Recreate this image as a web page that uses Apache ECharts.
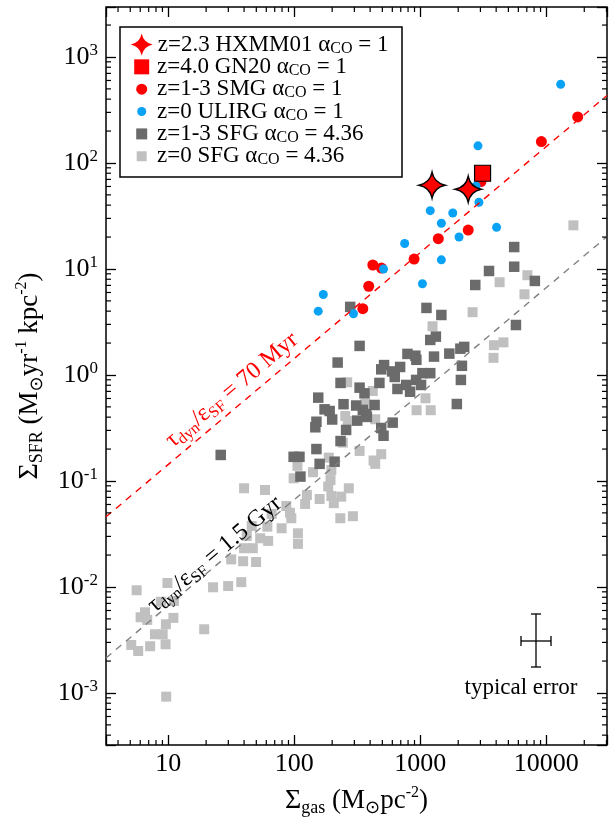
<!DOCTYPE html>
<html><head><meta charset="utf-8">
<script src="https://cdn.jsdelivr.net/npm/echarts@6/dist/echarts.min.js"></script>
<style>html,body{margin:0;padding:0;background:#fff}#c{width:610px;height:826px}</style>
</head><body><div id="c"></div>
<script>
const FONT = 'Liberation Serif';
const X_MIN = 3.21, X_MAX = 30300, Y_MIN = 3.23e-4, Y_MAX = 2960;

// Tick labels
const xTickLabels = ['10', '100', '1000', '10000'];
const yTickExponents = ['-3', '-2', '-1', '0', '1', '2', '3'];

// Data  [Sigma_gas (Msun/pc^2), Sigma_SFR (Msun/yr/kpc^2)]
const hxmm01 = [[1240, 61.7], [2400, 56.5]];
const gn20 = [[3120, 80.0]];
const smg = [[17740, 272], [9140, 159], [3030, 66.7], [2400, 23.3], [1390, 19.3], [893, 12.4], [420, 10.9], [492, 10.2], [390, 6.87], [350, 4.22]];
const ulirg = [[13000, 552], [2870, 145], [2770, 60.7], [2920, 42.6], [1200, 35.5], [1810, 33.7], [1470, 27.0], [4030, 24.7], [2030, 20.0], [752, 17.4], [1470, 12.2], [511, 10.0], [1040, 7.26], [170, 5.74], [155, 4.0], [295, 3.78]];
const sfgHighZ = [[5560, 16.1], [5560, 10.5], [3510, 9.57], [8110, 7.71], [2730, 7.06], [278, 4.39], [1120, 4.29], [1470, 3.68], [5740, 2.96], [1330, 2.30], [1200, 2.14], [330, 1.88], [2230, 1.84], [2080, 1.77], [791, 1.58], [914, 1.52], [931, 1.39], [1285, 1.49], [1700, 1.59], [221, 1.31], [516, 1.24], [692, 1.19], [490, 1.13], [2140, 1.22], [598, 1.08], [1040, 1.04], [1200, 1.04], [627, 0.957], [927, 0.898], [2100, 0.898], [233, 0.841], [474, 0.841], [773, 0.805], [1014, 0.805], [330, 0.759], [659, 0.738], [830, 0.695], [361, 0.671], [155, 0.611], [1950, 0.532], [246, 0.530], [310, 0.515], [434, 0.521], [174, 0.474], [191, 0.457], [350, 0.468], [372, 0.429], [200, 0.380], [316, 0.371], [377, 0.402], [150, 0.362], [147, 0.321], [604, 0.355], [258, 0.303], [490, 0.316], [511, 0.267], [233, 0.238], [26.1, 0.176], [150, 0.200], [98.9, 0.169], [110, 0.169], [209, 0.152], [159, 0.145], [112, 0.110]];
const sfgLocal = [[16400, 25.8], [7080, 8.73], [4260, 7.50], [6710, 5.77], [2600, 3.91], [1250, 2.88], [3840, 1.91], [4570, 2.03], [3810, 1.45], [1100, 0.603], [935, 0.465], [1210, 0.465], [263, 0.853], [420, 0.706], [367, 0.536], [254, 0.410], [266, 0.368], [439, 0.382], [243, 0.230], [330, 0.192], [490, 0.179], [426, 0.156], [439, 0.145], [188, 0.166], [106, 0.139], [197, 0.127], [141, 0.121], [98.9, 0.106], [194, 0.102], [186, 0.0887], [271, 0.0853], [40.0, 0.0853], [58.6, 0.0822], [126, 0.0738], [159, 0.0676], [197, 0.0721], [236, 0.0711], [122, 0.0607], [206, 0.0617], [86.5, 0.0581], [92.5, 0.0502], [94.8, 0.0445], [232, 0.0445], [292, 0.0465], [66.2, 0.0489], [46.0, 0.0376], [61.2, 0.0371], [79.4, 0.0358], [42.0, 0.0303], [53.7, 0.0288], [62.1, 0.0272], [107, 0.0321], [107, 0.0255], [40.0, 0.0232], [46.9, 0.0232], [31.6, 0.0182], [39.3, 0.0175], [49.8, 0.0172], [9.86, 0.0109], [22.7, 0.00993], [29.9, 0.0102], [38.0, 0.0111], [5.62, 0.00931], [8.75, 0.00726], [11.1, 0.00738], [6.55, 0.00577], [6.04, 0.00518], [6.82, 0.00489], [11.0, 0.00511], [9.59, 0.00445], [19.3, 0.00399], [7.85, 0.00358], [9.04, 0.00358], [5.09, 0.00284], [5.78, 0.00249], [7.19, 0.00276], [9.53, 0.00288], [9.64, 0.000923]];
// Depletion-time lines (end points)
const line70Myr = [[3.21, 0.0459], [30300, 433]];
const line1p5Gyr = [[3.21, 0.00214], [30300, 20.2]];
const label70Anchor = [32, 0.457];
const label1p5Anchor = [23.4, 0.0156];

const NAMES = ['z=2.3 HXMM01 αCO = 1', 'z=4.0 GN20 αCO = 1', 'z=1-3 SMG αCO = 1', 'z=0 ULIRG αCO = 1', 'z=1-3 SFG αCO = 4.36', 'z=0 SFG αCO = 4.36'];
const LEGEND_RICH = [
  '{t|z=2.3 HXMM01 α}{s|CO}{t| = 1}',
  '{t|z=4.0 GN20 α}{s|CO}{t| = 1}',
  '{t|z=1-3 SMG α}{s|CO}{t| = 1}',
  '{t|z=0 ULIRG α}{s|CO}{t| = 1}',
  '{t|z=1-3 SFG α}{s|CO}{t| = 4.36}',
  '{t|z=0 SFG α}{s|CO}{t| = 4.36}'
];
const LEGEND_SIZE = [22, 15, 11, 9, 11, 10];

const STAR = 'path://M0,-10 Q1.7,-1.7 10,0 Q1.7,1.7 0,10 Q-1.7,1.7 -10,0 Q-1.7,-1.7 0,-10 Z';

const minorX = [], minorY = [];
for (let k = 0; k <= 4; k++) for (let m = 2; m <= 9; m++) { const v = m * Math.pow(10, k); if (v > X_MIN && v < X_MAX) minorX.push(v); }
for (let k = -4; k <= 3; k++) for (let m = 2; m <= 9; m++) { const v = m * Math.pow(10, k); if (v > Y_MIN && v < Y_MAX) minorY.push(v); }
const minorData = minorX.map(v => [v, 1, 0]).concat(minorY.map(v => [10, v, 1]));

function isPow10(v) { const l = Math.log10(v); return Math.abs(l - Math.round(l)) < 1e-6; }

const chart = echarts.init(document.getElementById('c'), null, {renderer: 'canvas'});

const tickStyle = {inside: true, length: 10, lineStyle: {color: '#000', width: 1.3}};
const richTitle = {
  S: {fontFamily: FONT, fontSize: 28, lineHeight: 32, color: '#000'},
  t: {fontFamily: FONT, fontSize: 27, lineHeight: 32, color: '#000'},
  s: {fontFamily: FONT, fontSize: 18, lineHeight: 16, verticalAlign: 'bottom', color: '#000'},
  o: {fontFamily: 'DejaVu Sans', fontSize: 18, lineHeight: 16, verticalAlign: 'bottom', color: '#000'},
  p: {fontFamily: FONT, fontSize: 16, lineHeight: 16, verticalAlign: 'top', color: '#000'}
};

const legendRichStyle = {
  t: {fontFamily: FONT, fontSize: 23, lineHeight: 24, color: '#000'},
  s: {fontFamily: FONT, fontSize: 16, lineHeight: 14, verticalAlign: 'bottom', color: '#000'}
};

const option = {
  animation: false,
  backgroundColor: '#fff',
  grid: {left: 106, right: 2, top: 7, bottom: 81, show: true, borderColor: '#000', borderWidth: 1.5, containLabel: false},
  legend: NAMES.map((n, i) => {
    const s = LEGEND_SIZE[i];
    return {
      data: [n], orient: 'vertical', selectedMode: false, z: 8,
      left: 141.7 - s / 2, top: 45 + i * 22.35 - 12,
      itemWidth: s, itemHeight: s, itemGap: 0, padding: 0,
      itemStyle: {borderWidth: 0},
      formatter: () => LEGEND_RICH[i],
      textStyle: {rich: legendRichStyle, padding: [0, 0, 0, Math.max(0, 157 - (141.7 + s / 2 + 5))]}
    };
  }),
  xAxis: [
    {type: 'log', logBase: 10, min: X_MIN, max: X_MAX, position: 'bottom',
     axisLine: {show: false}, splitLine: {show: false}, axisTick: tickStyle,
     axisLabel: {margin: 6, fontFamily: FONT, fontSize: 26, color: '#000',
       formatter: v => isPow10(v) ? (xTickLabels[Math.round(Math.log10(v)) - 1] || '') : ''},
     name: '{S|Σ}{s|gas}{t| (M}{o|⊙}{t|pc}{p|-2}{t|)}', nameLocation: 'middle', nameGap: 40,
     nameTextStyle: {rich: richTitle}},
    {type: 'log', logBase: 10, min: X_MIN, max: X_MAX, position: 'top',
     axisLine: {show: false}, splitLine: {show: false}, axisTick: tickStyle, axisLabel: {show: false}}
  ],
  yAxis: [
    {type: 'log', logBase: 10, min: Y_MIN, max: Y_MAX, position: 'left',
     axisLine: {show: false}, splitLine: {show: false}, axisTick: tickStyle,
     axisLabel: {margin: 8, color: '#000',
       formatter: v => {
         if (!isPow10(v)) return '';
         const e = Math.round(Math.log10(v));
         const lab = yTickExponents[e + 3];
         return lab === undefined ? '' : '{b|10}{e|' + lab + '}';
       },
       rich: {b: {fontFamily: FONT, fontSize: 26, lineHeight: 30, color: '#000'},
              e: {fontFamily: FONT, fontSize: 17, lineHeight: 17, verticalAlign: 'top', color: '#000'}}},
     name: '{S|Σ}{s|SFR}{t| (M}{o|⊙}{t|yr}{p|-1}{t| kpc}{p|-2}{t|)}', nameLocation: 'middle', nameGap: 60,
     nameTextStyle: {rich: richTitle}},
    {type: 'log', logBase: 10, min: Y_MIN, max: Y_MAX, position: 'right',
     axisLine: {show: false}, splitLine: {show: false}, axisTick: tickStyle, axisLabel: {show: false}}
  ],
  series: [
    {type: 'line', name: 'tau70', data: line70Myr, symbol: 'none', silent: true,
     lineStyle: {color: '#ff0000', width: 1.4, type: [7, 6]}},
    {type: 'line', name: 'tau1p5', data: line1p5Gyr, symbol: 'none', silent: true,
     lineStyle: {color: '#808080', width: 1.4, type: [7, 6]}},
    {type: 'scatter', name: NAMES[5], data: sfgLocal, symbol: 'rect', symbolSize: 10,
     itemStyle: {color: '#c0c0c0', opacity: 1}},
    {type: 'scatter', name: NAMES[4], data: sfgHighZ, symbol: 'rect', symbolSize: 10.5,
     itemStyle: {color: '#6b6b6b', opacity: 1}},
    {type: 'scatter', name: NAMES[2], data: smg, symbol: 'circle', symbolSize: 11,
     itemStyle: {color: '#ff0000', opacity: 1}},
    {type: 'scatter', name: NAMES[3], data: ulirg, symbol: 'circle', symbolSize: 9,
     itemStyle: {color: '#0aa2f5', opacity: 1}},
    {type: 'scatter', name: NAMES[1], data: gn20, symbol: 'rect', symbolSize: 16,
     itemStyle: {color: '#ff0000', borderColor: '#000', borderWidth: 1.2, opacity: 1}},
    {type: 'scatter', name: NAMES[0], data: hxmm01, symbol: STAR, symbolSize: 26,
     itemStyle: {color: '#ff0000', borderColor: '#000', borderWidth: 1.4, opacity: 1}},
    {type: 'custom', name: 'minorTicks', data: minorData, silent: true, z: 10,
     renderItem: (params, api) => {
       const cs = params.coordSys;
       const p = api.coord([api.value(0), api.value(1)]);
       const st = {stroke: '#000', lineWidth: 1.2};
       if (api.value(2) === 0) {
         return {type: 'group', children: [
           {type: 'line', shape: {x1: p[0], y1: cs.y + cs.height, x2: p[0], y2: cs.y + cs.height - 5}, style: st},
           {type: 'line', shape: {x1: p[0], y1: cs.y, x2: p[0], y2: cs.y + 5}, style: st}
         ]};
       }
       return {type: 'group', children: [
         {type: 'line', shape: {x1: cs.x, y1: p[1], x2: cs.x + 5, y2: p[1]}, style: st},
         {type: 'line', shape: {x1: cs.x + cs.width, y1: p[1], x2: cs.x + cs.width - 5, y2: p[1]}, style: st}
       ]};
     }}
  ]
};
chart.setOption(option);

const pRed = chart.convertToPixel({seriesIndex: 0}, label70Anchor);
const pGray = chart.convertToPixel({seriesIndex: 1}, label1p5Anchor);
const ROT = 40 * Math.PI / 180;
const lineLabelRich = (c) => ({
  g: {fontFamily: FONT, fontSize: 24, lineHeight: 28, fill: c},
  sub: {fontFamily: FONT, fontSize: 16, lineHeight: 14, verticalAlign: 'bottom', fill: c}
});
chart.setOption({
  graphic: [
    {type: 'rect', z: 5, shape: {x: 120, y: 27, width: 282, height: 150},
     style: {fill: '#fff', stroke: '#000', lineWidth: 1.5}},
    {type: 'text', z: 6, x: pRed[0], y: pRed[1] - 21, rotation: ROT,
     style: {text: '{g|τ}{sub|dyn}{g|/ε}{sub|SF}{g| = 70 Myr}', rich: lineLabelRich('#ff0000'),
             align: 'center', verticalAlign: 'middle', fill: '#ff0000'}},
    {type: 'text', z: 6, x: pGray[0], y: pGray[1] - 12, rotation: ROT,
     style: {text: '{g|τ}{sub|dyn}{g|/ε}{sub|SF}{g| = 1.5 Gyr}', rich: lineLabelRich('#000'),
             align: 'center', verticalAlign: 'middle', fill: '#000'}},
    {type: 'group', z: 6, children: [
      {type: 'line', shape: {x1: 536, y1: 614, x2: 536, y2: 667}, style: {stroke: '#000', lineWidth: 1.3}},
      {type: 'line', shape: {x1: 531, y1: 614, x2: 541, y2: 614}, style: {stroke: '#000', lineWidth: 1.3}},
      {type: 'line', shape: {x1: 531, y1: 667, x2: 541, y2: 667}, style: {stroke: '#000', lineWidth: 1.3}},
      {type: 'line', shape: {x1: 521, y1: 641, x2: 551, y2: 641}, style: {stroke: '#000', lineWidth: 1.3}},
      {type: 'line', shape: {x1: 521, y1: 636, x2: 521, y2: 646}, style: {stroke: '#000', lineWidth: 1.3}},
      {type: 'line', shape: {x1: 551, y1: 636, x2: 551, y2: 646}, style: {stroke: '#000', lineWidth: 1.3}}
    ]},
    {type: 'text', z: 6, x: 521, y: 688,
     style: {text: 'typical error', font: '23px "Liberation Serif"', fill: '#000', align: 'center', verticalAlign: 'middle'}}
  ]
});
</script></body></html>
